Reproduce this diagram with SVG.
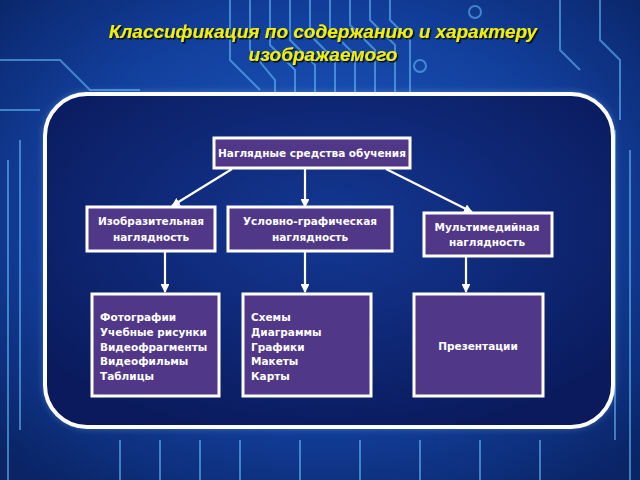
<svg xmlns="http://www.w3.org/2000/svg" width="640" height="480" viewBox="0 0 640 480">
<defs>
<radialGradient id="bg" cx="0.5" cy="0.45" r="0.7">
<stop offset="0" stop-color="#1d5ec8"/>
<stop offset="0.6" stop-color="#123f9c"/>
<stop offset="1" stop-color="#0a2466"/>
</radialGradient>
<radialGradient id="panel" cx="0.5" cy="0.4" r="0.65">
<stop offset="0" stop-color="#143894"/>
<stop offset="1" stop-color="#0a1a5c"/>
</radialGradient>
<marker id="ah" viewBox="0 0 10 10" refX="9" refY="5" markerWidth="4" markerHeight="4" orient="auto">
<path d="M0,0 L10,5 L0,10 z" fill="#ffffff"/>
</marker>
<filter id="glow" x="-10%" y="-10%" width="120%" height="120%">
<feGaussianBlur stdDeviation="4"/>
</filter>
<filter id="shadow" x="-5%" y="-20%" width="110%" height="140%">
<feDropShadow dx="1.5" dy="1.5" stdDeviation="0.6" flood-color="#000000" flood-opacity="0.85"/>
</filter>
</defs>
<style>
.box{fill:#513788;stroke:#ffffff;stroke-width:3}
.t{font-family:"DejaVu Sans","Liberation Sans",sans-serif;font-weight:bold;font-size:10.5px;fill:#ffffff}
.c{text-anchor:middle}
.trace{fill:none;stroke:#6cc4ff;stroke-width:2;opacity:0.55}
.title{font-family:"Liberation Sans",Arial,sans-serif;font-weight:bold;font-style:italic;font-size:19px;text-anchor:middle;fill:#f2f000;filter:url(#shadow)}
.conn{stroke:#ffffff;stroke-width:2.2;fill:none;marker-end:url(#ah)}
</style>
<rect width="640" height="480" fill="url(#bg)"/>
<g id="circuit">
<path class="trace" d="M230,0 V60 L260,90"/>
<path class="trace" d="M250,0 V50 L275,80 V92"/>
<path class="trace" d="M270,0 V45 L295,70 V92"/>
<path class="trace" d="M290,0 V40 L315,65 V92"/>
<path class="trace" d="M310,0 V35 L335,60 V92"/>
<path class="trace" d="M330,0 V30 L355,55 V92"/>
<path class="trace" d="M350,0 V25 L375,50 V92"/>
<path class="trace" d="M370,0 V20 L395,45 V92"/>
<path class="trace" d="M390,0 V20 L410,40 V92"/>
<path class="trace" d="M0,60 H60 L90,90 H140"/>
<path class="trace" d="M0,110 H40"/>
<path class="trace" d="M600,0 V40 L620,60 V120"/>
<path class="trace" d="M560,0 V50 L580,70"/>
<path class="trace" d="M615,130 V440"/>
<path class="trace" d="M630,150 V480"/>
<path class="trace" d="M20,140 V430"/>
<path class="trace" d="M8,160 V480"/>
<path class="trace" d="M120,440 V480"/>
<path class="trace" d="M160,440 V480"/>
<path class="trace" d="M200,440 V480"/>
<path class="trace" d="M240,440 V480"/>
<path class="trace" d="M300,440 V480"/>
<path class="trace" d="M360,440 V480"/>
<path class="trace" d="M420,440 V480"/>
<path class="trace" d="M480,440 V480"/>
<path class="trace" d="M540,440 V480"/>
<circle class="trace" cx="475" cy="12" r="6"/>
<circle class="trace" cx="420" cy="66" r="6"/>
</g>
<g id="title">
<text class="title" x="323" y="38">Классификация по содержанию и характеру</text>
<text class="title" x="323" y="61">изображаемого</text>
</g>
<rect x="45" y="94" width="568" height="333" rx="42" fill="#9fd0ff" opacity="0.5" filter="url(#glow)"/>
<rect x="45" y="94" width="568" height="333" rx="42" fill="url(#panel)" stroke="#ffffff" stroke-width="4"/>
<g id="connectors">
<line class="conn" x1="232" y1="169" x2="172" y2="206"/>
<line class="conn" x1="305" y1="169" x2="305" y2="207"/>
<line class="conn" x1="386" y1="169" x2="472" y2="212"/>
<line class="conn" x1="165" y1="252" x2="165" y2="292"/>
<line class="conn" x1="305" y1="252" x2="305" y2="292"/>
<line class="conn" x1="466" y1="257" x2="466" y2="292"/>
</g>
<g id="root">
<rect class="box" x="214" y="138" width="196" height="30"/>
<text class="t c" x="312" y="157">Наглядные средства обучения</text>
</g>
<g id="izobr">
<rect class="box" x="87" y="207" width="128" height="44"/>
<text class="t c" x="151" y="225">Изобразительная</text>
<text class="t c" x="151" y="241">наглядность</text>
</g>
<g id="uslovno">
<rect class="box" x="228" y="207" width="164" height="44"/>
<text class="t c" x="310" y="225">Условно-графическая</text>
<text class="t c" x="310" y="241">наглядность</text>
</g>
<g id="multi">
<rect class="box" x="424" y="213" width="128" height="43"/>
<text class="t c" x="487" y="231">Мультимедийная</text>
<text class="t c" x="487" y="246">наглядность</text>
</g>
<g id="izobr-list">
<rect class="box" x="92" y="294" width="127" height="102"/>
<text class="t" x="100" y="321">Фотографии</text>
<text class="t" x="100" y="336">Учебные рисунки</text>
<text class="t" x="100" y="351">Видеофрагменты</text>
<text class="t" x="100" y="365">Видеофильмы</text>
<text class="t" x="100" y="380">Таблицы</text>
</g>
<g id="uslovno-list">
<rect class="box" x="243" y="294" width="128" height="102"/>
<text class="t" x="251" y="321">Схемы</text>
<text class="t" x="251" y="336">Диаграммы</text>
<text class="t" x="251" y="351">Графики</text>
<text class="t" x="251" y="365">Макеты</text>
<text class="t" x="251" y="380">Карты</text>
</g>
<g id="multi-list">
<rect class="box" x="414" y="294" width="129" height="102"/>
<text class="t c" x="478" y="350">Презентации</text>
</g>
</svg>
